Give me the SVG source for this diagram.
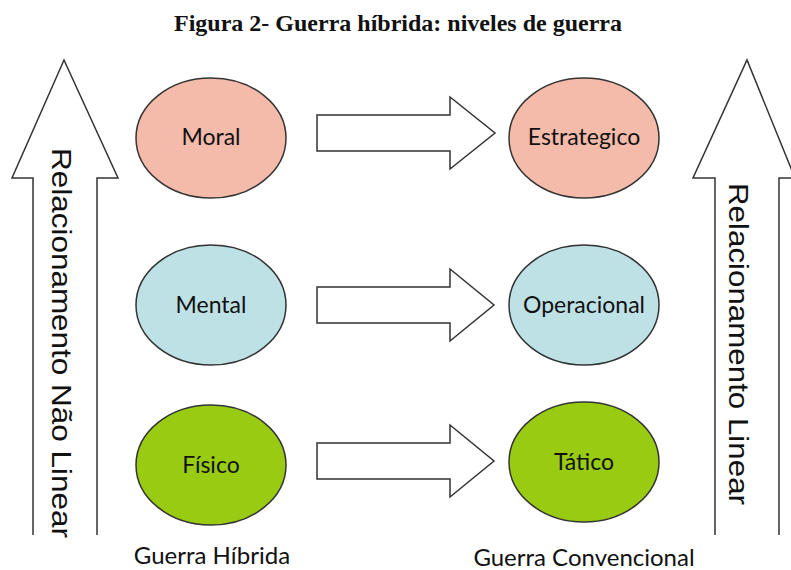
<svg xmlns="http://www.w3.org/2000/svg" width="791" height="570" viewBox="0 0 791 570">
<style>
.title{font-family:"Liberation Serif",serif;font-weight:bold;font-size:24px;fill:#111}
.lbl{font-family:Lato,"Open Sans",sans-serif;font-size:23px;fill:#111;text-anchor:middle}
.cap{font-family:Lato,"Open Sans",sans-serif;font-size:24px;fill:#111;text-anchor:middle}
.vt{font-family:"Liberation Sans",Arial,sans-serif;font-size:28px;fill:#111}
.node{stroke:#333;stroke-width:1.5}
.arr{fill:#fff;stroke:#333;stroke-width:1.5}
.pink{fill:#F5BBAA}
.blue{fill:#BEE1E5}
.green{fill:#99CB13}
</style>
<rect width="791" height="570" fill="#fff"/>
<text class="title" x="398" y="31" text-anchor="middle">Figura 2- Guerra híbrida: niveles de guerra</text>
<g id="left-axis">
<path class="arr" d="M33,535 L33,178 L12,178 L64,60 L118,178 L97,178 L97,535" fill="none"/>
<text class="vt" transform="translate(52,148) rotate(90)" textLength="390" lengthAdjust="spacingAndGlyphs">Relacionamento Não Linear</text>
</g>
<g id="right-axis">
<path class="arr" d="M715,535 L715,178 L693,178 L747,60 L795,178 L779,178 L779,535" fill="none"/>
<text class="vt" transform="translate(729,183) rotate(90)" textLength="322" lengthAdjust="spacingAndGlyphs">Relacionamento Linear</text>
</g>
<g id="moral"><ellipse class="node pink" cx="211" cy="138" rx="75" ry="60"/><text class="lbl" x="211" y="145">Moral</text></g>
<g id="estrategico"><ellipse class="node pink" cx="584" cy="138" rx="75" ry="60"/><text class="lbl" x="584" y="145">Estrategico</text></g>
<g id="mental"><ellipse class="node blue" cx="211" cy="305" rx="75" ry="60"/><text class="lbl" x="211" y="313">Mental</text></g>
<g id="operacional"><ellipse class="node blue" cx="584" cy="305" rx="75" ry="60"/><text class="lbl" x="584" y="313">Operacional</text></g>
<g id="fisico"><ellipse class="node green" cx="211" cy="465" rx="75" ry="60"/><text class="lbl" x="211" y="473">Físico</text></g>
<g id="tatico"><ellipse class="node green" cx="584" cy="462" rx="75" ry="60"/><text class="lbl" x="584" y="470">Tático</text></g>
<g id="connectors">
<path class="arr" d="M317,115 L450,115 L450,97 L495,133 L450,169 L450,151 L317,151 Z"/>
<path class="arr" d="M317,287 L450,287 L450,269 L494,305 L450,341 L450,323 L317,323 Z"/>
<path class="arr" d="M317,443 L450,443 L450,425 L494,461 L450,497 L450,479 L317,479 Z"/>
</g>
<text class="cap" x="212" y="564">Guerra Híbrida</text>
<text class="cap" x="584" y="566">Guerra Convencional</text>
</svg>
